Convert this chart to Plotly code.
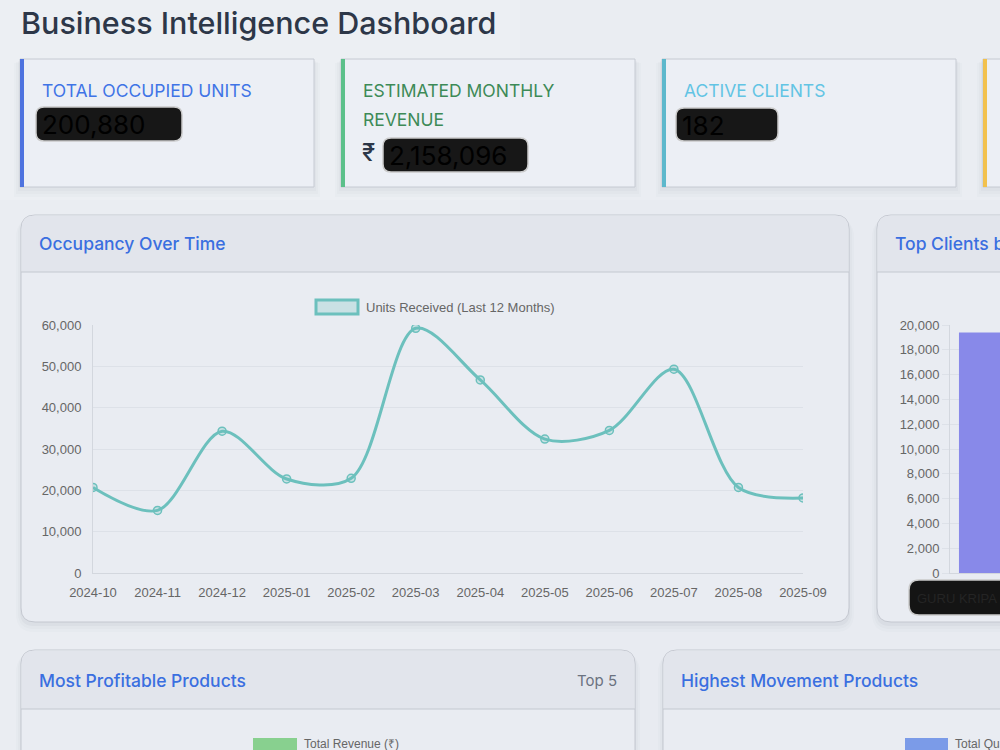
import plotly.graph_objects as go

# ---------------- data ----------------
months = ["2024-10", "2024-11", "2024-12", "2025-01", "2025-02", "2025-03",
          "2025-04", "2025-05", "2025-06", "2025-07", "2025-08", "2025-09"]
units_received = [20700, 15150, 34300, 22750, 22900, 59200,
                  46700, 32400, 34500, 49300, 20700, 18150]

clients = ["GURU KRIPA"]
client_units = [19400]

kpi_labels = ["TOTAL OCCUPIED UNITS", "ESTIMATED MONTHLY", "REVENUE", "ACTIVE CLIENTS"]
kpi_values = ["200,880", "2,158,096", "182"]

line_tick_vals = [0, 10000, 20000, 30000, 40000, 50000, 60000]
bar_tick_vals = [0, 2000, 4000, 6000, 8000, 10000, 12000, 14000, 16000, 18000, 20000]

W, H = 1000, 750


def px(x):
    return x / W


def py(y):
    return 1 - y / H


def rrect(x0, y0, x1, y1, r, top_only=False):
    rx, ry = r / W, r / H
    X0, X1 = px(x0), px(x1)
    Y0, Y1 = py(y0), py(y1)  # Y0 top (greater), Y1 bottom
    if top_only:
        return (f"M {X0} {Y1} L {X0} {Y0 - ry} Q {X0} {Y0} {X0 + rx} {Y0} "
                f"L {X1 - rx} {Y0} Q {X1} {Y0} {X1} {Y0 - ry} L {X1} {Y1} Z")
    return (f"M {X0 + rx} {Y0} L {X1 - rx} {Y0} Q {X1} {Y0} {X1} {Y0 - ry} "
            f"L {X1} {Y1 + ry} Q {X1} {Y1} {X1 - rx} {Y1} L {X0 + rx} {Y1} "
            f"Q {X0} {Y1} {X0} {Y1 + ry} L {X0} {Y0 - ry} Q {X0} {Y0} {X0 + rx} {Y0} Z")


shapes = []
annotations = []


def rect(x0, y0, x1, y1, fill, line=None, lw=0, layer="below"):
    shapes.append(dict(type="rect", xref="paper", yref="paper",
                       x0=px(x0), x1=px(x1), y0=py(y1), y1=py(y0),
                       fillcolor=fill, line=dict(color=line or "rgba(0,0,0,0)", width=lw),
                       layer=layer))


def path(d, fill, line=None, lw=0, layer="below"):
    shapes.append(dict(type="path", xref="paper", yref="paper", path=d,
                       fillcolor=fill, line=dict(color=line or "rgba(0,0,0,0)", width=lw),
                       layer=layer))


def text(x, y, s, size, color, family="Inter", weight=400, xanchor="left"):
    # annotations carry ~2px of inner padding; compensate
    dx = -2 if xanchor == "left" else 2
    annotations.append(dict(xref="paper", yref="paper", x=px(x + dx), y=py(y), text=s,
                            showarrow=False, xanchor=xanchor, yanchor="middle",
                            font=dict(size=size, color=color, family=family, weight=weight)))


# page background tint (lighter top-left)
rect(0, 0, 1000, 750, "#e8ebf1")
rect(0, 0, 520, 750, "rgba(255,255,255,0.12)")
rect(0, 0, 1000, 200, "rgba(255,255,255,0.12)")

# title
text(21, 23, "Business Intelligence Dashboard", 30.5, "#2d3748", weight=500)

# ---------------- KPI cards ----------------
kpi_cards = [(20, "#4e73df"), (341, "#5cc08a"), (662, "#5db8cc"), (983, "#f2c14e")]
for x0, col in kpi_cards:
    for k, a in enumerate([0.025, 0.02, 0.015]):
        rect(x0 - 2 - k * 2, 59 + 2 + k, x0 + 294 + 2 + k * 2, 187 + 4 + k * 3, f"rgba(30,40,70,{a})")
    rect(x0, 59, x0 + 294, 187, "#eceff5", "#c6cad2", 1)
    rect(x0, 59, x0 + 4, 187, col)

text(42, 91, kpi_labels[0], 17.5, "#3f74e6")
text(363, 91, kpi_labels[1], 17.5, "#3d8a57")
text(363, 119, kpi_labels[2], 17.5, "#3d8a57")
text(684, 91, kpi_labels[3], 17.5, "#62c4e4")


def redact(x0, y0, x1, y1, s, size):
    path(rrect(x0, y0, x1, y1, 8), "#171717", "#c9c9c9", 1.5, layer="above")
    text(x0 + 6, (y0 + y1) / 2 + 1, s, size, "#000000", family="Inter")


redact(36, 107, 182, 141, kpi_values[0], 26)
text(362, 153, "₹", 24, "#2d3748", weight=500)
redact(383, 138, 528, 172, kpi_values[1], 26)
redact(676, 108, 778, 141, kpi_values[2], 26)

# ---------------- chart cards ----------------
def card(x0, y0, x1, y1, hdr):
    for k, a in enumerate([0.03, 0.02, 0.015]):
        path(rrect(x0 - 1 - k * 2, y0 + 2 + k, x1 + 1 + k * 2, y1 + 4 + k * 3, 14 + k * 2),
             f"rgba(30,40,70,{a})")
    path(rrect(x0, y0, x1, y1, 14), "#e9ecf2", "#c4c8d0", 1)
    path(rrect(x0 + 0.5, y0 + 0.5, x1 - 0.5, hdr, 14, top_only=True), "#e2e5ec")
    shapes.append(dict(type="line", xref="paper", yref="paper", x0=px(x0), x1=px(x1),
                       y0=py(hdr), y1=py(hdr), line=dict(color="#c4c8d0", width=1), layer="below"))


card(21, 215, 849, 622, 272)
card(877, 215, 1030, 622, 272)
card(21, 650, 635, 800, 709)
card(663, 650, 1030, 800, 709)

text(39, 243, "Occupancy Over Time", 17.5, "#3a6fe0", weight=500)
text(895, 243, "Top Clients by Occupancy", 17.5, "#3a6fe0", weight=500)
text(39, 680, "Most Profitable Products", 17.5, "#3a6fe0", weight=500)
text(617, 680, "Top 5", 15, "#6b7280", xanchor="right")
text(681, 680, "Highest Movement Products", 17.5, "#3a6fe0", weight=500)

# legends (chart.js style boxes)
rect(316, 300, 358, 314, "rgba(108,192,189,0.25)", "#6cc0bd", 3)
text(366, 307, "Units Received (Last 12 Months)", 13, "#666666", family="Liberation Sans")
rect(253, 738, 297, 752, "#88d08f")
text(304, 744, "Total Revenue (₹)", 12, "#666666", family="Liberation Sans")
rect(905, 738, 948, 752, "#7b9be8")
text(955, 744, "Total Quantity", 12, "#666666", family="Liberation Sans")

# ---------------- traces ----------------
fig = go.Figure()
fig.add_trace(go.Scatter(
    x=list(range(len(months))), y=units_received, mode="lines+markers",
    line=dict(color="#6cc0bd", width=3, shape="spline", smoothing=0.9),
    marker=dict(size=8, color="rgba(108,192,189,0.25)", line=dict(color="#6cc0bd", width=1.5)),
    xaxis="x", yaxis="y", showlegend=False, hoverinfo="skip"))

fig.add_trace(go.Bar(
    x=list(range(len(clients))), y=client_units, width=0.72,
    marker=dict(color="#8889e9", line=dict(width=0)),
    xaxis="x2", yaxis="y2", showlegend=False, hoverinfo="skip"))

# redacted client label
for i, c in enumerate(clients):
    path(rrect(909, 580, 1012, 615, 10), "#141414", "#c9c9c9", 1.5, layer="above")
    text(917, 598, c, 13, "#242424", family="Liberation Sans")

grid = "#dde1e8"
tickfont = dict(family="Liberation Sans", size=13, color="#666666")

fig.update_layout(
    width=W, height=H, margin=dict(l=0, r=0, t=0, b=0, pad=0, autoexpand=False),
    paper_bgcolor="#e9ecf2", plot_bgcolor="rgba(0,0,0,0)",
    shapes=shapes, annotations=annotations,
    xaxis=dict(domain=[px(93), px(803)], range=[0, 11], tickmode="array",
               tickvals=list(range(len(months))), ticktext=months,
               showgrid=False, zeroline=False, showline=True, linecolor="#d3d7de",
               ticks="outside", ticklen=7, tickcolor="rgba(0,0,0,0)",
               tickfont=tickfont, anchor="y", automargin=False),
    yaxis=dict(domain=[py(573), py(325)], range=[0, 60000], tickmode="array",
               tickvals=line_tick_vals, tickformat=",", showgrid=True, gridcolor=grid,
               zeroline=False, showline=True, linecolor="#d3d7de",
               ticks="outside", ticklen=8, tickcolor="rgba(0,0,0,0)",
               tickfont=tickfont, anchor="x", automargin=False),
    xaxis2=dict(domain=[px(950), 1.0], range=[-0.5, 0.28], showticklabels=False,
                showgrid=False, zeroline=False, showline=True, linecolor="#d3d7de",
                anchor="y2", automargin=False),
    yaxis2=dict(domain=[py(573), py(325)], range=[0, 20000], tickmode="array",
                tickvals=bar_tick_vals, tickformat=",", showgrid=True, gridcolor=grid,
                zeroline=False, showline=True, linecolor="#d3d7de",
                ticks="outside", ticklen=7, tickcolor=grid,
                tickfont=tickfont, anchor="x2", automargin=False),
)

fig.write_html("out.html")
